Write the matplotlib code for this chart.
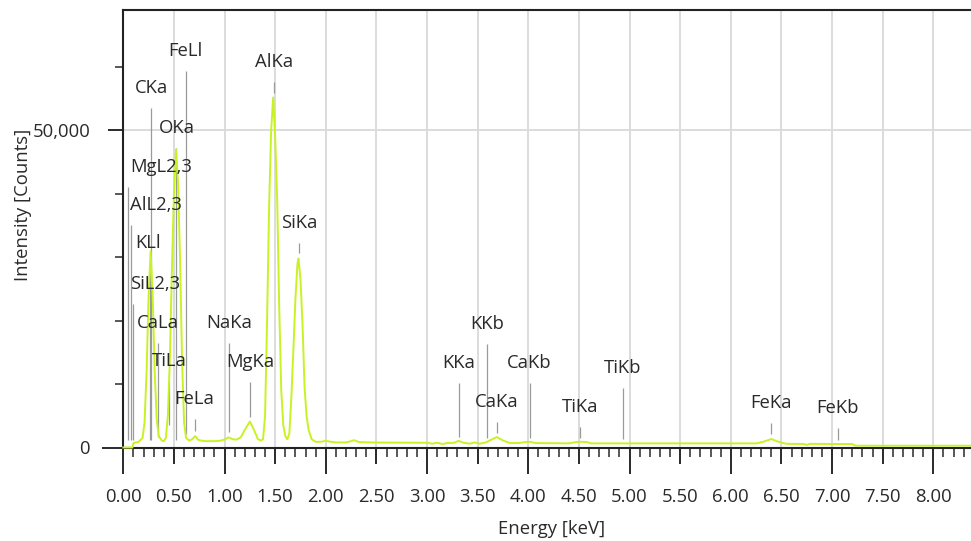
import matplotlib
matplotlib.use('Agg')
import matplotlib.pyplot as plt
from matplotlib.ticker import MultipleLocator, FixedLocator

# ---------------- data ----------------
energy_kev = [0.00, 0.09, 0.10, 0.15, 0.19, 0.21, 0.23, 0.25, 0.27, 0.29, 0.31, 0.33, 0.35, 0.38,
              0.40, 0.42, 0.44, 0.46, 0.48, 0.50, 0.52, 0.54, 0.56, 0.58, 0.60, 0.62, 0.65, 0.68,
              0.71, 0.74, 0.80, 0.90, 0.95, 1.00, 1.04, 1.08, 1.12, 1.16, 1.20, 1.25, 1.29, 1.33,
              1.36, 1.38, 1.40, 1.42, 1.44, 1.46, 1.48, 1.50, 1.52, 1.54, 1.56, 1.58, 1.60, 1.62,
              1.64, 1.66, 1.68, 1.70, 1.72, 1.73, 1.75, 1.77, 1.79, 1.81, 1.83, 1.86, 1.90, 1.95,
              2.00, 2.05, 2.10, 2.20, 2.25, 2.28, 2.33, 2.50, 2.80, 3.00, 3.05, 3.10, 3.15, 3.20,
              3.27, 3.31, 3.36, 3.42, 3.47, 3.52, 3.58, 3.63, 3.69, 3.75, 3.82, 3.90, 3.97, 4.02,
              4.07, 4.40, 4.47, 4.52, 4.58, 4.62, 5.00, 5.50, 6.00, 6.25, 6.32, 6.40, 6.47, 6.55,
              6.72, 6.75, 6.78, 7.00, 7.20, 7.23, 8.37]
counts = [0, 0, 700, 900, 1500, 4000, 12000, 24000, 31000, 24000, 12000, 4500, 1800, 1100,
          1000, 1500, 5000, 14000, 28000, 40000, 47000, 42000, 30000, 14000, 4000, 1500, 1100, 1300,
          1800, 1200, 1000, 1000, 1050, 1250, 1600, 1300, 1250, 1600, 2800, 4100, 2800, 1300,
          1100, 1300, 5000, 20000, 38000, 50000, 55200, 49000, 39000, 22000, 9000, 3500, 1800, 1300,
          2200, 8000, 15500, 23500, 29000, 29800, 26500, 19500, 9500, 5000, 2800, 1300, 900, 900,
          1050, 900, 800, 800, 1000, 1150, 850, 780, 760, 750, 600, 750, 550, 700,
          750, 1050, 750, 600, 800, 600, 800, 1200, 1650, 1100, 700, 700, 850, 900,
          700, 650, 850, 900, 850, 650, 650, 650, 650, 650, 900, 1340, 900, 580,
          560, 400, 580, 550, 550, 280, 280]

line_names = ["MgL2,3", "AlL2,3", "SiL2,3", "KLl", "CKa", "CaLa", "TiLa", "OKa", "FeLl", "FeLa",
              "NaKa", "MgKa", "AlKa", "SiKa", "KKa", "KKb", "CaKa", "CaKb", "TiKa", "TiKb",
              "FeKa", "FeKb"]
line_energies = [0.049, 0.072, 0.092, 0.260, 0.277, 0.341, 0.452, 0.525, 0.615, 0.705,
                 1.041, 1.254, 1.486, 1.740, 3.313, 3.590, 3.691, 4.013, 4.510, 4.932,
                 6.400, 7.058]
line_tops = [41080, 35090, 22630, 29100, 53540, 16480, 10490, 47230, 59380, 4490,
             16480, 10330, 57640, 32250, 10170, 16320, 4020, 10170, 3230, 9380,
             3860, 3080]
line_bottoms = [1180, 1180, 1180, 1180, 1180, 1660, 3550, 1180, 2130, 2600,
                2440, 4810, 55900, 30670, 1660, 1500, 2290, 1500, 1500, 1340,
                2130, 1180]

x_tick_values = [0.0, 0.5, 1.0, 1.5, 2.0, 2.5, 3.0, 3.5, 4.0, 4.5, 5.0, 5.5, 6.0, 6.5, 7.0, 7.5, 8.0]
x_tick_labels = ["0.00", "0.50", "1.00", "1.50", "2.00", "2.50", "3.00", "3.50", "4.00", "4.50",
                 "5.00", "5.50", "6.00", "6.50", "7.00", "7.50", "8.00"]
y_tick_values = [0, 50000]
y_tick_labels = ["0", "50,000"]

# ---------------- style ----------------
plt.rcParams['font.family'] = ['Open Sans', 'DejaVu Sans']
label_ha = {"MgL2,3": "left", "AlL2,3": "left", "SiL2,3": "left"}
label_dx_pt = {"MgL2,3": 1.4, "AlL2,3": -0.4, "SiL2,3": -1.9, "KLl": -1.4}
text_color = '#2a2a2a'

W, H = 971, 541
fig = plt.figure(figsize=(W / 100, H / 100), dpi=100)
x0, y0, y1 = 123.3, 447.5, 10.0
ax = fig.add_axes([x0 / W, (H - y0) / H, 1 - x0 / W, (y0 - y1) / H])

ax.set_xlim(0, 8.372)
ax.set_ylim(0, 69000)

ax.vlines(line_energies, line_bottoms, line_tops, colors='#9a9a9a', lw=0.9, zorder=2)
ax.plot(energy_kev, counts, color='#c8f224', lw=1.4, zorder=3, clip_on=False)

for name, e, top in zip(line_names, line_energies, line_tops):
    ax.annotate(name, xy=(e, top), xytext=(label_dx_pt.get(name, 0), 14.4),
                textcoords='offset points', ha=label_ha.get(name, 'center'), va='center',
                fontsize=13.3, color=text_color, annotation_clip=False)

# axes / ticks
ax.xaxis.set_major_locator(FixedLocator(x_tick_values))
ax.set_xticklabels(x_tick_labels)
ax.xaxis.set_minor_locator(MultipleLocator(0.1))
ax.yaxis.set_major_locator(FixedLocator(y_tick_values))
ax.set_yticklabels(y_tick_labels)
ax.yaxis.set_minor_locator(MultipleLocator(10000))

ax.tick_params(axis='x', which='major', length=11.5, width=1.4, pad=18, labelsize=13.3,
               color='#2a2a2a', labelcolor=text_color)
ax.tick_params(axis='x', which='minor', length=6.5, width=1.1, color='#2a2a2a')
ax.tick_params(axis='y', which='major', length=10.8, width=1.4, pad=13, labelsize=13.3,
               color='#2a2a2a', labelcolor=text_color)
ax.tick_params(axis='y', which='minor', length=5.8, width=1.1, color='#2a2a2a')

for t, v in zip(ax.xaxis.get_major_ticks(), x_tick_values):
    if abs(v - round(v)) < 1e-9:
        t.tick1line.set_markersize(18.7)
for t, v in zip(ax.yaxis.get_major_ticks(), y_tick_values):
    if v == 0:
        t.tick1line.set_markersize(15)

ax.grid(True, which='major', axis='both', color='#d9d9d9', lw=1.3)
ax.set_axisbelow(True)

for s in ['left', 'bottom', 'top']:
    ax.spines[s].set_color('#222222')
    ax.spines[s].set_linewidth(1.5)
ax.spines['right'].set_visible(False)

ax.set_xlabel('Energy [keV]', fontsize=13.3, color=text_color)
ax.set_ylabel('Intensity [Counts]', fontsize=13.3, color=text_color)
ax.xaxis.set_label_coords(0.505, -0.165)
ax.yaxis.set_label_coords(-0.108, 0.554)

fig.savefig('out.png', dpi=100)
